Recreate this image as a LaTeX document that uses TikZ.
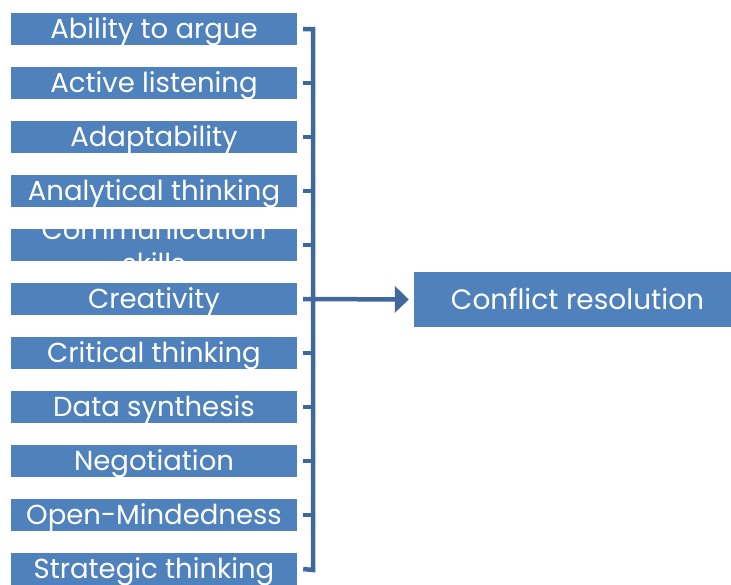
\documentclass[tikz,border=0pt]{standalone}
\usepackage{fontspec}
\setmainfont{Poppins}
\usetikzlibrary{arrows.meta}

\definecolor{boxblue}{HTML}{4F81BD}
\definecolor{linkblue}{HTML}{41689C}

\tikzset{
  skillbox/.style={fill=boxblue, text=white, inner sep=0pt, minimum width=286pt, minimum height=32pt,
    text height=20pt, text depth=2pt, font=\fontsize{27.5}{34}\selectfont},
  goalbox/.style={fill=boxblue, text=white, inner sep=0pt, minimum width=327pt, minimum height=55pt,
    text height=21pt, text depth=2pt, font=\fontsize{28}{34}\selectfont},
  link/.style={draw=linkblue, line width=4.5pt, line join=miter}
}

\begin{document}
\begin{tikzpicture}[x=1pt,y=-1pt]
        \useasboundingbox (0,0) rectangle (731,584);
        % skills, one box each
        \foreach \name [count=\i] in {Ability to argue, Active listening, Adaptability, Analytical thinking,
            {\smash{\raisebox{-2pt}{\begin{tabular}{@{}c@{}}Communication\\ skills\end{tabular}}}},
            Creativity, Critical thinking, Data synthesis, Negotiation, Open-Mindedness, Strategic thinking}
            \node [skillbox] (sk\i) at (154, {29+54*(\i-1)}) {\name};
        \node [goalbox] (goal) at (577.5, 299.5) {Conflict resolution};
        % bracket
        \coordinate (bar-top) at (313, 29);
        \coordinate (bar-bot) at (313, 570);
        \draw [link] ([xshift=6pt]sk1.east) -- (bar-top) -- (bar-bot) -- ([xshift=6pt]sk11.east);
        \foreach \i in {2,...,10}
            \draw [link] ([xshift=6pt]sk\i.east) -- (sk\i.east -| bar-top);
        \draw [link, -{Triangle[length=14pt,width=26pt]}, shorten >=5pt] ([xshift=6pt]sk6.east) -- (goal.west);
\end{tikzpicture}
\end{document}
